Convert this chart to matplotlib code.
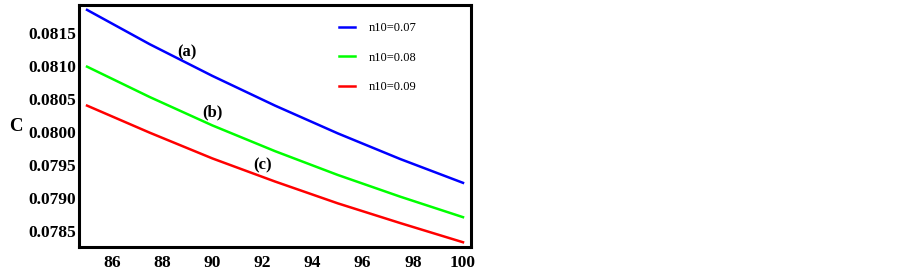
import numpy as np
import matplotlib
matplotlib.use("Agg")
import matplotlib.pyplot as plt

# donnees
x = [85, 87.5, 90, 92.5, 95, 97.5, 100]
c_a = [0.08185, 0.08133, 0.08085, 0.08040, 0.07998, 0.07959, 0.07923]
c_b = [0.08099, 0.08053, 0.08010, 0.07971, 0.07935, 0.07902, 0.07871]
c_c = [0.08040, 0.07999, 0.07960, 0.07925, 0.07892, 0.07862, 0.07833]
labels = ["n10=0.07", "n10=0.08", "n10=0.09"]
yticks = [0.0785, 0.0790, 0.0795, 0.0800, 0.0805, 0.0810, 0.0815]
xticks = [86, 88, 90, 92, 94, 96, 98, 100]

plt.rcParams['font.family'] = ['Liberation Serif', 'DejaVu Serif']

fig = plt.figure(figsize=(9.02, 2.73), dpi=100)
ax = fig.add_axes([0.0876, 0.0952, 0.4346, 0.8865])

ax.plot(x, c_a, color=(0, 0, 1), lw=1.8, label=labels[0])
ax.plot(x, c_b, color=(0, 1, 0), lw=1.8, label=labels[1])
ax.plot(x, c_c, color=(1, 0, 0), lw=1.8, label=labels[2])

ax.text(89.0, 0.08121, "(a)", fontsize=12, fontweight='bold', ha='center', va='center')
ax.text(90.0, 0.08029, "(b)", fontsize=12, fontweight='bold', ha='center', va='center')
ax.text(92.0, 0.07950, "(c)", fontsize=12, fontweight='bold', ha='center', va='center')

ax.set_xlim(84.68, 100.32)
ax.set_ylim(0.078258, 0.081924)
ax.set_xticks(xticks)
ax.set_yticks(yticks)
ax.set_yticklabels(["%.4f" % v for v in yticks])
ax.tick_params(length=0, labelsize=12.5)
ax.tick_params(axis='x', pad=5.5)
ax.tick_params(axis='y', pad=2)
for lab in ax.get_xticklabels() + ax.get_yticklabels():
    lab.set_fontweight('bold')
for s in ax.spines.values():
    s.set_linewidth(2.2)

ax.set_ylabel("C", fontsize=13.5, fontweight='bold', rotation=0, labelpad=9, va='center')

ax.legend(loc='upper right', frameon=False, fontsize=9, handlelength=1.25,
          handletextpad=1.1, labelspacing=1.4, borderaxespad=0.6,
          bbox_to_anchor=(0.892, 0.98))

fig.savefig("out.png", dpi=100)
